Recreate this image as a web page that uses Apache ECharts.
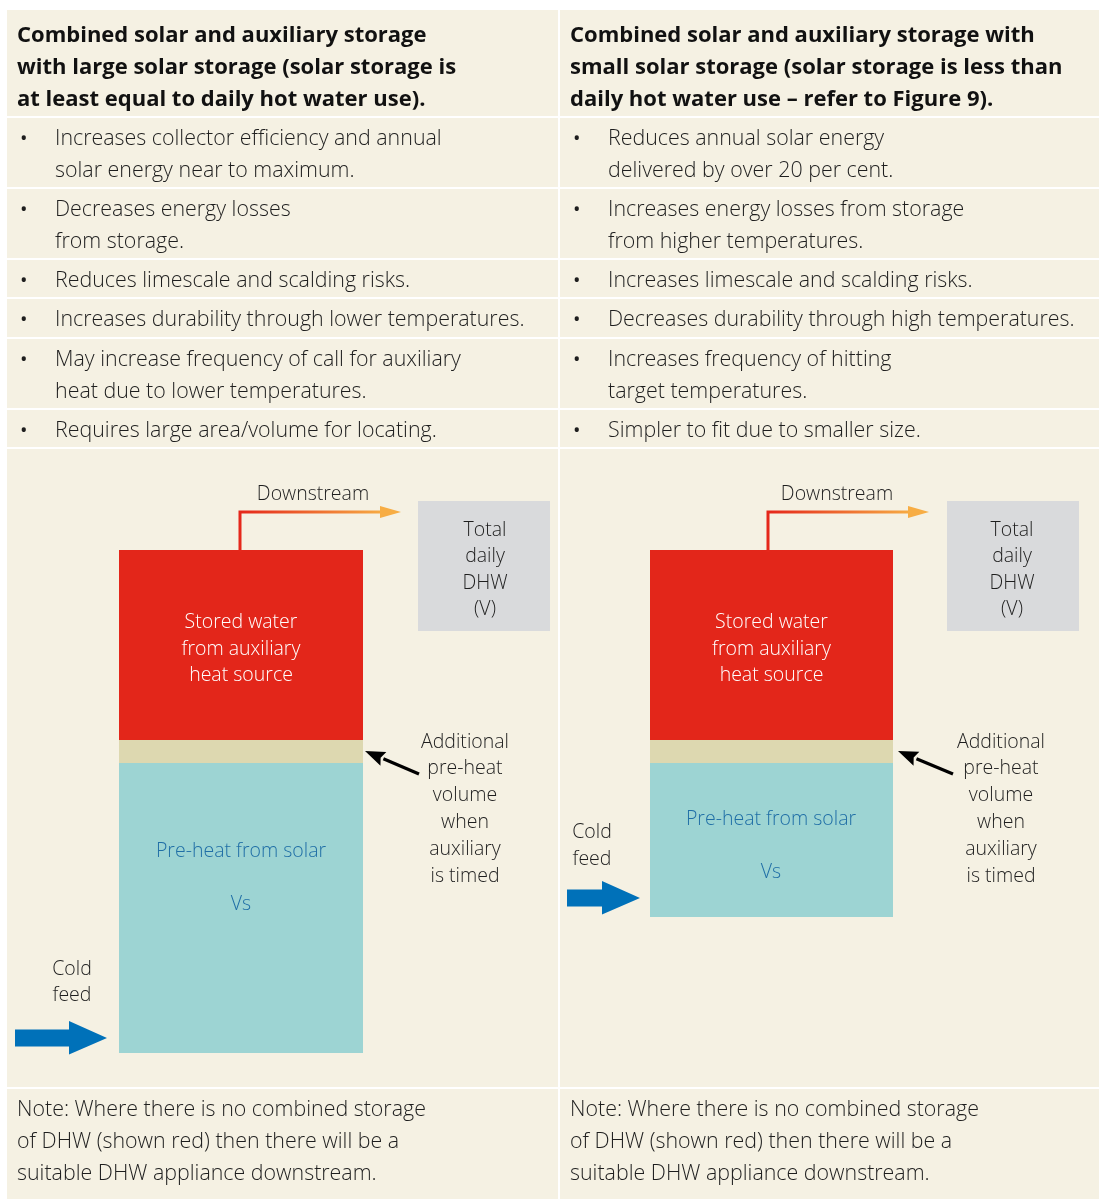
<!DOCTYPE html>
<html>
<head>
<meta charset="utf-8">
<script src="https://cdn.jsdelivr.net/npm/echarts@6/dist/echarts.min.js"></script>
<style>
html,body{margin:0;padding:0;background:#ffffff;}
#chart{width:1099px;height:1199px;}
</style>
</head>
<body>
<div id="chart"></div>
<script>
// ---------- data ----------
const tanks = ['Large solar storage', 'Small solar storage'];
const auxStored = [190, 190];          // stored water from auxiliary heat source
const additionalPreheat = [23, 23];    // additional pre-heat volume when auxiliary is timed
const solarPreheat = [290, 154];       // pre-heat from solar (Vs)

const headers = [
  ['Combined solar and auxiliary storage', 'with large solar storage (solar storage is', 'at least equal to daily hot water use).'],
  ['Combined solar and auxiliary storage with', 'small solar storage (solar storage is less than', 'daily hot water use \u2013 refer to Figure 9).']
];
const bulletsLeft = [
  ['Increases collector efficiency and annual', 'solar energy near to maximum.'],
  ['Decreases energy losses', 'from storage.'],
  ['Reduces limescale and scalding risks.'],
  ['Increases durability through lower temperatures.'],
  ['May increase frequency of call for auxiliary', 'heat due to lower temperatures.'],
  ['Requires large area/volume for locating.']
];
const bulletsRight = [
  ['Reduces annual solar energy', 'delivered by over 20 per cent.'],
  ['Increases energy losses from storage', 'from higher temperatures.'],
  ['Increases limescale and scalding risks.'],
  ['Decreases durability through high temperatures.'],
  ['Increases frequency of hitting', 'target temperatures.'],
  ['Simpler to fit due to smaller size.']
];
const notes = ['Note: Where there is no combined storage', 'of DHW (shown red) then there will be a', 'suitable DHW appliance downstream.'];
const storedLabel = 'Stored water\nfrom auxiliary\nheat source';
const preheatLabel = 'Pre-heat from solar';
const vsLabel = 'Vs';
const downstreamLabel = 'Downstream';
const dhwLabel = ['Total', 'daily', 'DHW', '(V)'];
const additionalLabel = ['Additional', 'pre-heat', 'volume', 'when', 'auxiliary', 'is timed'];
const coldLabel = ['Cold', 'feed'];

// ---------- layout ----------
const FONT = "'Open Sans', 'Noto Sans', sans-serif";
const CREAM = '#f5f1e3';
const TXT = '#1e1e1e';
const BODY = 21.4, DIA = 19.5;
const cols = [{x: 7, w: 551, tx: 17, bx: 20, bt: 55}, {x: 560, w: 539, tx: 570, bx: 573, bt: 608}];
const rows = [
  {y: 10, h: 106}, {y: 118, h: 69}, {y: 189, h: 69}, {y: 260, h: 37},
  {y: 299, h: 38}, {y: 339, h: 69}, {y: 410, h: 37}, {y: 449, h: 638}, {y: 1089, h: 110}
];
const headerY = [36, 68, 100];
const bulletY = [[139, 171], [210, 242], [281], [320], [360, 392], [431]];
const noteY = [1110, 1142, 1174];

const g = [];
// cells
cols.forEach(c => rows.forEach(r => {
  g.push({type: 'rect', z: 0, shape: {x: c.x, y: r.y, width: c.w, height: r.h}, style: {fill: CREAM}, silent: true});
}));
function txt(s, x, y, opt) {
  g.push({type: 'text', z: 10, style: Object.assign({
    text: s, x: x, y: y, fill: TXT, fontSize: BODY, fontFamily: FONT, fontWeight: 300,
    align: 'left', verticalAlign: 'middle'
  }, opt || {})});
}
// headers
headers.forEach((h, i) => h.forEach((line, j) => txt(line, cols[i].tx, headerY[j], {fontSize: 22, fontWeight: 'bold', fill: '#111'})));
// bullets
[bulletsLeft, bulletsRight].forEach((bl, i) => bl.forEach((b, k) => {
  txt('\u2022', cols[i].bx, bulletY[k][0], {fontSize: 20, fontWeight: 'normal'});
  b.forEach((line, j) => txt(line, cols[i].bt, bulletY[k][j]));
}));
// notes
cols.forEach(c => notes.forEach((n, j) => txt(n, c.tx, noteY[j])));

// diagram decorations per tank
const dia = [
  {cx: 241, pipeX: 240, pipeEnd: 384, tip: 401, downX: 313, box: [418, 501, 132, 130], boxCx: 485,
   arr: [[419, 774], [365, 751]], addCx: 465, coldCx: 72, coldY: [969, 995],
   blue: {x0: 15, xh: 69, x1: 107, cy: 1038}, preY: 851, vsY: 904},
  {cx: 771, pipeX: 768, pipeEnd: 912, tip: 929, downX: 837, box: [947, 501, 132, 130], boxCx: 1012,
   arr: [[953, 774], [898, 751]], addCx: 1001, coldCx: 592, coldY: [832, 859],
   blue: {x0: 567, xh: 602, x1: 640, cy: 898}, preY: 819, vsY: 872}
];
dia.forEach(d => {
  // downstream pipe
  g.push({type: 'polyline', z: 5, shape: {points: [[d.pipeX, 552], [d.pipeX, 512], [d.pipeEnd, 512]]},
    style: {fill: null, lineWidth: 3, stroke: new echarts.graphic.LinearGradient(d.pipeX, 0, d.pipeEnd, 0, [
      {offset: 0, color: '#e5271b'}, {offset: 1, color: '#f7ad44'}], true)}});
  g.push({type: 'polygon', z: 5, shape: {points: [[d.pipeEnd - 4, 506], [d.tip, 512], [d.pipeEnd - 4, 518]]}, style: {fill: '#f7ad44'}});
  txt(downstreamLabel, d.downX, 494, {align: 'center', fontSize: DIA});
  // daily DHW box
  g.push({type: 'rect', z: 5, shape: {x: d.box[0], y: d.box[1], width: d.box[2], height: d.box[3]}, style: {fill: '#d9dadc'}});
  dhwLabel.forEach((s, j) => txt(s, d.boxCx, 530 + j * 26.5, {align: 'center', fontSize: DIA}));
  // black arrow
  const [t, h] = d.arr;
  const ang = Math.atan2(h[1] - t[1], h[0] - t[0]);
  const L = 20, W = 7.5;
  const bx = h[0] - L * Math.cos(ang), by = h[1] - L * Math.sin(ang);
  g.push({type: 'line', z: 6, shape: {x1: t[0], y1: t[1], x2: bx, y2: by}, style: {stroke: '#000', lineWidth: 3.2}});
  g.push({type: 'polygon', z: 6, shape: {points: [
    [h[0], h[1]],
    [bx + W * Math.sin(ang), by - W * Math.cos(ang)],
    [bx + 3 * Math.cos(ang), by + 3 * Math.sin(ang)],
    [bx - W * Math.sin(ang), by + W * Math.cos(ang)]]}, style: {fill: '#000'}});
  additionalLabel.forEach((s, j) => txt(s, d.addCx, 742 + j * 26.8, {align: 'center', fontSize: DIA}));
  // cold feed
  coldLabel.forEach((s, j) => txt(s, d.coldCx, d.coldY[j], {align: 'center', fontSize: DIA}));
  const b = d.blue;
  g.push({type: 'polygon', z: 6, shape: {points: [
    [b.x0, b.cy - 8.5], [b.xh, b.cy - 8.5], [b.xh, b.cy - 17], [b.x1, b.cy], [b.xh, b.cy + 16.5], [b.xh, b.cy + 8.5], [b.x0, b.cy + 8.5]]},
    style: {fill: '#0071b9'}});
  // tank texts
  txt(preheatLabel, d.cx, d.preY, {align: 'center', fontSize: DIA, fill: '#1f6ea6'});
  txt(vsLabel, d.cx, d.vsY, {align: 'center', fontSize: DIA, fill: '#1f6ea6'});
});

// ---------- tanks as stacked bars ----------
const grids = [
  {left: 119, width: 244, top: 550, height: 503},
  {left: 650, width: 243, top: 550, height: 503}
];
const yMax = 503;
const series = [];
tanks.forEach((name, i) => {
  const common = {type: 'bar', xAxisIndex: i, yAxisIndex: i, stack: 'tank' + i, barWidth: '100%', z: 3, silent: true};
  series.push(Object.assign({}, common, {name: 'Stored water from auxiliary', data: [auxStored[i]], itemStyle: {color: '#e3261a'},
    label: {show: true, position: 'inside', formatter: storedLabel, color: '#ffffff', fontSize: DIA, lineHeight: 26.5, fontFamily: FONT, fontWeight: 300, offset: [0, 4]}}));
  series.push(Object.assign({}, common, {name: 'Additional pre-heat', data: [additionalPreheat[i]], itemStyle: {color: '#ddd8b0'}}));
  series.push(Object.assign({}, common, {name: 'Pre-heat from solar', data: [solarPreheat[i]], itemStyle: {color: '#9dd4d3'}}));
});

const chart = echarts.init(document.getElementById('chart'), null, {renderer: 'canvas'});
chart.setOption({
  backgroundColor: '#ffffff',
  animation: false,
  grid: grids.map(gr => Object.assign({containLabel: false}, gr)),
  xAxis: tanks.map((t, i) => ({type: 'category', gridIndex: i, data: [t], show: false})),
  yAxis: tanks.map((t, i) => ({type: 'value', gridIndex: i, min: 0, max: yMax, inverse: true, show: false})),
  series: series,
  graphic: {elements: g}
});
</script>
</body>
</html>
